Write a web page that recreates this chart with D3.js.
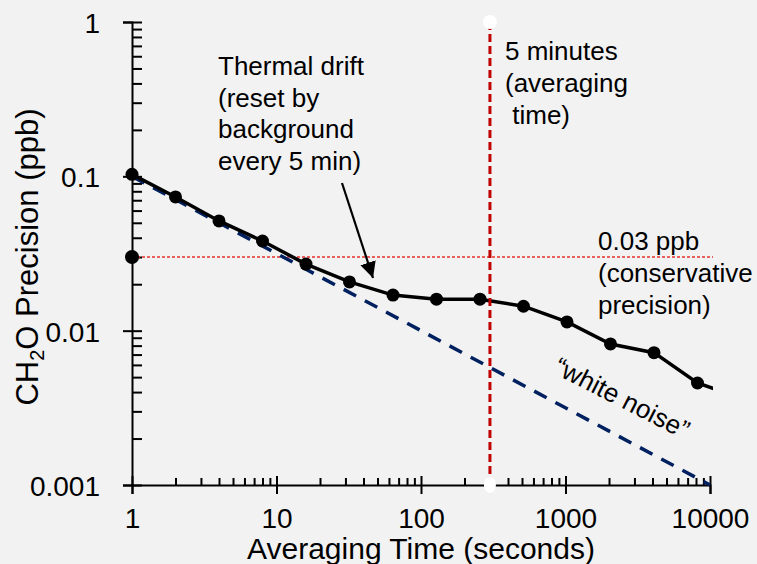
<!DOCTYPE html>
<html>
<head>
<meta charset="utf-8">
<script src="https://cdn.jsdelivr.net/npm/d3@7"></script>
<style>
  html, body { margin: 0; padding: 0; background: #f2f2f2; }
  svg { display: block; font-family: "Liberation Sans", Arial, sans-serif; }
  text { white-space: pre; }
</style>
</head>
<body>
<div id="chart"></div>
<script>
// averaging time (s) and measured CH2O precision (ppb)
const avgTime = [1, 2, 4, 8, 16, 32, 64, 128, 256, 512, 1024, 2048, 4096, 8192, 16384]
const precision = [0.103, 0.0735, 0.0514, 0.0381, 0.027, 0.0207, 0.017, 0.016, 0.016, 0.0144, 0.0114, 0.0082, 0.0072, 0.00458, 0.00366]
// last point is off the axis, line only
const markerCount = 14

// white noise reference (1/sqrt(t))
const whiteNoiseTime = [1, 10000]
const whiteNoise = [0.1, 0.001]

const conservativePrecision = 0.03
const fiveMinutes = 300

const xTicks = [1, 10, 100, 1000, 10000]
const xTickLabels = ["1", "10", "100", "1000", "10000"]
const yTicks = [0.001, 0.01, 0.1, 1]
const yTickLabels = ["0.001", "0.01", "0.1", "1"]

const width = 757, height = 564

const svg = d3.select("#chart").append("svg")
    .attr("width", width)
    .attr("height", height)

svg.append("rect").attr("width", width).attr("height", height).attr("fill", "#f2f2f2")

const x = d3.scaleLog().domain([1, 10000]).range([132, 710])
const y = d3.scaleLog().domain([0.001, 1]).range([485, 22])

// minor ticks (2..9 in each decade)
const xMinor = []
for (let d = 1; d < 10000; d *= 10) for (let k = 2; k < 10; k++) xMinor.push(d * k)
const yMinor = []
for (let d = 0.001; d < 0.9; d *= 10) for (let k = 2; k < 10; k++) yMinor.push(d * k)

const defs = svg.append("defs")
defs.append("clipPath").attr("id", "plotclip")
    .append("rect").attr("x", 120).attr("y", 0).attr("width", 713 - 120).attr("height", 500)

const axisColor = "#000"

// x axis: majors cross, minors inside
const gx = svg.append("g").attr("transform", "translate(0," + y(0.001) + ")")
gx.call(d3.axisBottom(x).tickValues(xTicks).tickFormat((d, i) => xTickLabels[i]).tickSize(9).tickPadding(14))
gx.append("g").call(d3.axisTop(x).tickValues(xTicks).tickFormat("").tickSize(9).tickSizeOuter(0))
gx.append("g").call(d3.axisTop(x).tickValues(xMinor).tickFormat("").tickSize(7).tickSizeOuter(0))

// y axis
const gy = svg.append("g").attr("transform", "translate(" + x(1) + ",0)")
gy.call(d3.axisLeft(y).tickValues(yTicks).tickFormat((d, i) => yTickLabels[i]).tickSize(9).tickPadding(23))
gy.append("g").call(d3.axisRight(y).tickValues(yTicks).tickFormat("").tickSize(10).tickSizeOuter(0))
gy.append("g").call(d3.axisRight(y).tickValues(yMinor).tickFormat("").tickSize(10).tickSizeOuter(0))

svg.selectAll(".domain").attr("stroke", axisColor).attr("stroke-width", 2)
svg.selectAll(".tick line").attr("stroke", axisColor).attr("stroke-width", 2)
svg.selectAll(".domain").filter(function() { return this.parentNode !== gx.node() && this.parentNode !== gy.node() }).remove()
gx.selectAll(".tick text").attr("font-size", 28).attr("font-family", "Liberation Sans, Arial, sans-serif").attr("fill", "#000")
gy.selectAll(".tick text").attr("font-size", 28).attr("font-family", "Liberation Sans, Arial, sans-serif").attr("fill", "#000").attr("dy", "0.38em")

// axis titles
svg.append("text")
    .attr("x", 421).attr("y", 559)
    .attr("text-anchor", "middle")
    .attr("font-size", 30)
    .text("Averaging Time (seconds)")

const yTitle = svg.append("text")
    .attr("transform", "translate(38,257) rotate(-90)")
    .attr("text-anchor", "middle")
    .attr("font-size", 31)
yTitle.append("tspan").text("CH")
yTitle.append("tspan").attr("font-size", 20).attr("dy", 6).text("2")
yTitle.append("tspan").attr("dy", -6).text("O Precision (ppb)")

const plot = svg.append("g").attr("clip-path", "url(#plotclip)")

// 0.03 ppb line
plot.append("line")
    .attr("x1", x(1)).attr("x2", 713)
    .attr("y1", y(conservativePrecision)).attr("y2", y(conservativePrecision))
    .attr("stroke", "#e8302c").attr("stroke-width", 1.6)
    .attr("stroke-dasharray", "3,2")

// white noise
plot.append("path")
    .datum(whiteNoiseTime.map((t, i) => [t, whiteNoise[i]]))
    .attr("d", d3.line().x(d => x(d[0])).y(d => y(d[1])))
    .attr("fill", "none")
    .attr("stroke", "#002060").attr("stroke-width", 3.5)
    .attr("stroke-dasharray", "14,10")

// measured
plot.append("path")
    .datum(avgTime.map((t, i) => [t, precision[i]]))
    .attr("d", d3.line().x(d => x(d[0])).y(d => y(d[1])))
    .attr("fill", "none")
    .attr("stroke", "#000").attr("stroke-width", 3.5)

svg.selectAll("circle.pt")
    .data(avgTime.slice(0, markerCount))
    .enter().append("circle")
    .attr("class", "pt")
    .attr("cx", d => x(d))
    .attr("cy", (d, i) => y(precision[i]))
    .attr("r", 6.5)
    .attr("fill", "#000")

svg.append("circle")
    .attr("cx", x(1)).attr("cy", y(conservativePrecision))
    .attr("r", 7).attr("fill", "#000")

// 5 minute line
svg.append("line")
    .attr("x1", x(fiveMinutes)).attr("x2", x(fiveMinutes))
    .attr("y1", y(1)).attr("y2", y(0.001))
    .attr("stroke", "#c00000").attr("stroke-width", 3)
    .attr("stroke-dasharray", "8,4")
svg.append("ellipse").attr("cx", x(fiveMinutes)).attr("cy", y(1)).attr("rx", 7).attr("ry", 7).attr("fill", "#fff")
svg.append("ellipse").attr("cx", x(fiveMinutes)).attr("cy", y(0.001)).attr("rx", 6).attr("ry", 8).attr("fill", "#fff")

// annotations
function multiline(xPos, yPos, lines, step) {
    const t = svg.append("text").attr("font-size", 26).attr("fill", "#000")
    lines.forEach((l, i) => {
        t.append("tspan").attr("x", xPos).attr("y", yPos + i * step).text(l)
    })
}
multiline(218, 75, ["Thermal drift", "(reset by", "background", "every 5 min)"], 31.7)
multiline(505, 60, ["5 minutes", "(averaging", " time)"], 32)
multiline(598, 250, ["0.03 ppb", "(conservative", "precision)"], 32)

svg.append("text")
    .attr("transform", "translate(618,406) rotate(27)")
    .attr("text-anchor", "middle")
    .attr("font-size", 26)
    .text("\u201Cwhite noise\u201D")

// arrow
defs.append("marker")
    .attr("id", "head")
    .attr("markerUnits", "userSpaceOnUse")
    .attr("markerWidth", 18).attr("markerHeight", 16)
    .attr("refX", 16).attr("refY", 8)
    .attr("orient", "auto")
    .append("path").attr("d", "M0,0 L16,8 L0,16 Z").attr("fill", "#000")

svg.append("line")
    .attr("x1", 342).attr("y1", 183)
    .attr("x2", 373).attr("y2", 278)
    .attr("stroke", "#000").attr("stroke-width", 2.2)
    .attr("marker-end", "url(#head)")
</script>
</body>
</html>
